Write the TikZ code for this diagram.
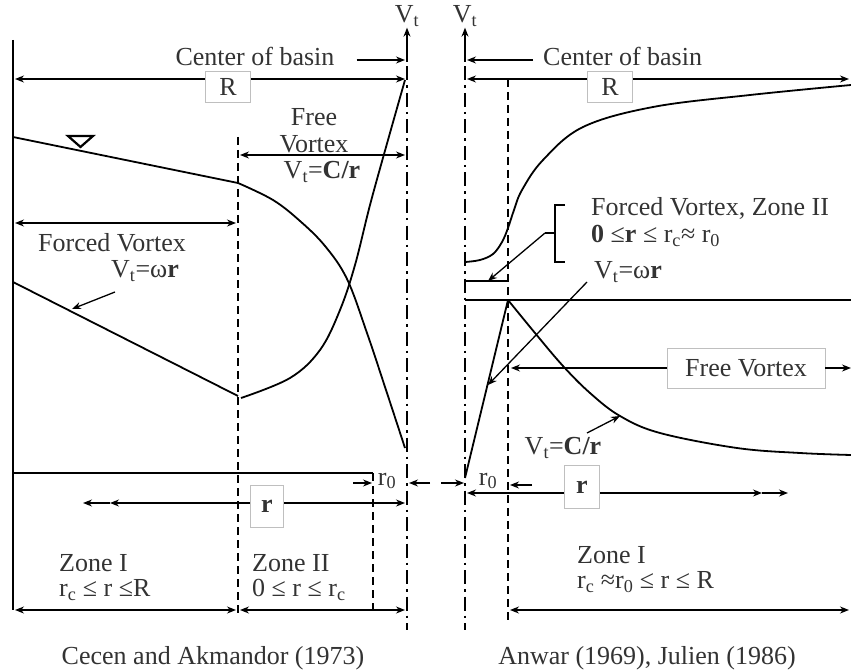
\documentclass[tikz,border=0pt]{standalone}
\usepackage{fontspec}
\setmainfont{Liberation Serif}
\usetikzlibrary{positioning, arrows.meta, calc}

\newcommand{\vt}{V\textsubscript{t}}

\begin{document}
\begin{tikzpicture}[
  x=1pt, y=-1pt,
  >={Stealth[length=9pt, width=7pt]},
  lbl/.style={font=\fontsize{26}{29}\selectfont, text=black!80, inner sep=1pt},
  boxlbl/.style={lbl, draw=black!25, line width=0.5pt, fill=white, inner sep=5pt},
  wall/.style={line width=2.2pt},
  curve/.style={line width=1.8pt},
  dimarr/.style={<->, line width=1.3pt},
  arr/.style={->, line width=1.3pt},
  zonedash/.style={line width=2pt, dash pattern=on 8pt off 5pt},
  axisline/.style={line width=1.8pt, dash pattern=on 14pt off 5pt on 2.5pt off 5pt},
]
\useasboundingbox (0,0) rectangle (851,671);

% === Left panel: Cecen and Akmandor ===
\coordinate (wallT) at (13,40);
\coordinate (wallB) at (13,610);
\coordinate (axLT) at (407,40);
\coordinate (axLB) at (407,630);
\coordinate (zoneLT) at (238,137);
\coordinate (zoneLB) at (238,615);
\coordinate (r0LT) at (373,473);
\coordinate (r0LB) at (373,610);

\draw[wall] (wallT) -- (wallB);
\draw[axisline] (axLT) -- (axLB);
\draw[zonedash] (zoneLT) -- (zoneLB);
\draw[zonedash] (r0LT) -- (r0LB);

% axis label
\node[lbl] (vtL) at (407,16) {\vt};
\coordinate (vtLbase) at (407,62);
\draw[arr] (vtLbase) -- (vtL.south);

% center of basin, R
\node[lbl, inner sep=0pt] (cobL) at (255,56) {Center of basin};
\coordinate (cobLend) at (405,60);
\draw[arr] ([shift={(22pt,-4pt)}]cobL.east) -- (cobLend);
\coordinate (RLa) at (15,79);
\coordinate (RLb) at (405,79);
\draw[dimarr] (RLa) -- (RLb);
\node[boxlbl, minimum width=45pt, minimum height=31pt] (RboxL) at (228,87) {R};

% water surface
\coordinate (wsA) at (13,137);
\coordinate (wsB) at (238,183);
\draw[curve] (wsA) -- (wsB);
\draw[curve] plot[smooth, tension=0.6] coordinates
  {(238,183) (273,200) (300,221) (325,246) (347,279) (367,333) (386,390) (405,448)};
\draw[line width=2.2pt, line join=miter] (68,136) -- (93,136) -- (80.5,147) -- cycle;

% free vortex
\node[lbl, align=center] (freeL) at (314,131) {Free\\[-2pt]Vortex};
\coordinate (fvLa) at (240,155);
\coordinate (fvLb) at (405,155);
\draw[dimarr] (fvLa) -- (fvLb);
\node[lbl] (ctL) at (322,172) {\vt=\textbf{C/r}};

% forced vortex
\coordinate (fcLa) at (15,223);
\coordinate (fcLb) at (236,223);
\draw[dimarr] (fcLa) -- (fcLb);
\node[lbl] (forcedL) at (112,243) {Forced Vortex};
\node[lbl] (wrL) at (145,271) {\vt=ω\textbf{r}};

% velocity profile
\coordinate (vpA) at (13,282);
\coordinate (vpB) at (238,396);
\draw[curve] (vpA) -- (vpB);
\draw[curve] plot[smooth, tension=0.6] coordinates
  {(241,398) (290,378) (320,350) (340,310) (355,265) (370,205) (388,140) (405,80)};
\coordinate (wrLa) at (115,292);
\coordinate (wrLtip) at (72,309);
\draw[arr] (wrLa) -- (wrLtip);

% r0 and r
\coordinate (baseLa) at (13,473);
\draw[line width=1.5pt] (baseLa) -- (r0LT);
\node[lbl] (r0L) at (387,481) {r\textsubscript{0}};
\coordinate (r0La) at (353,483);
\coordinate (r0Lb) at (372,483);
\draw[arr] (r0La) -- (r0Lb);
\coordinate (r0Lc) at (430,483);
\coordinate (r0Ld) at (409,483);
\draw[arr] (r0Lc) -- (r0Ld);
\coordinate (rLa) at (83,503);
\coordinate (rLb) at (110,503);
\coordinate (rLc) at (405,503);
\draw[dimarr] (rLb) -- (rLc);
\draw[arr] (rLb) -- (rLa);
\node[boxlbl, minimum width=33pt, minimum height=42pt] (rboxL) at (267,506) {\textbf{r}};

% zones
\node[lbl, anchor=west] (zIL) at (58,563) {Zone I};
\node[lbl, anchor=west] (zIrL) at (58,590) {r\textsubscript{c} ≤ r ≤R};
\node[lbl, anchor=west] (zIIL) at (251,563) {Zone II};
\node[lbl, anchor=west] (zIIrL) at (251,590) {0 ≤ r ≤ r\textsubscript{c}};
\coordinate (zbLa) at (15,610);
\coordinate (zbLb) at (236,610);
\coordinate (zbLc) at (240,610);
\coordinate (zbLd) at (405,610);
\draw[dimarr] (zbLa) -- (zbLb);
\draw[dimarr] (zbLc) -- (zbLd);

\node[lbl] (capL) at (213,658) {Cecen and Akmandor (1973)};

% === Right panel: Anwar, Julien ===
\coordinate (axRT) at (465,40);
\coordinate (axRB) at (465,630);
\coordinate (zoneRT) at (508,79);
\coordinate (zoneRB) at (508,620);
\draw[axisline] (axRT) -- (axRB);
\draw[zonedash] (zoneRT) -- (zoneRB);

\node[lbl] (vtR) at (465,16) {\vt};
\coordinate (vtRbase) at (465,62);
\draw[arr] (vtRbase) -- (vtR.south);

\node[lbl, anchor=west, inner sep=0pt] (cobR) at (543,56) {Center of basin};
\coordinate (cobRend) at (467,60);
\draw[arr] ([shift={(-10pt,-4pt)}]cobR.west) -- (cobRend);
\coordinate (RRa) at (467,79);
\coordinate (RRb) at (849,79);
\draw[dimarr] (RRa) -- (RRb);
\node[boxlbl, minimum width=45pt, minimum height=31pt] (RboxR) at (610,87) {R};

% upper profile
\draw[curve] plot[smooth, tension=0.6] coordinates
  {(465,262) (480,260) (493,254) (502,242) (508,228) (514,210) (522,190)
   (543,160) (583,127) (653,107) (750,95) (851,85)};

% forced vortex, zone II
\draw[line width=1.6pt] (565,205) -- (555,205) -- (555,262) -- (565,262);
\coordinate (brkTip) at (545,233);
\draw[line width=1.6pt] (555,233) -- (brkTip);
\node[lbl, anchor=west] (forcedR) at (590,208) {Forced Vortex, Zone II};
\node[lbl, anchor=west] (forcedRr) at (590,236) {\textbf{0} ≤\textbf{r} ≤ r\textsubscript{c}≈ r\textsubscript{0}};
\coordinate (shA) at (465,281);
\coordinate (shB) at (508,281);
\draw[line width=1.5pt] (shA) -- (shB);
\coordinate (brkEnd) at (488,281);
\draw[arr] (brkTip) -- (brkEnd);

% velocity profile
\coordinate (topA) at (465,300);
\coordinate (topB) at (851,300);
\draw[line width=1.5pt] (topA) -- (topB);
\coordinate (vpRa) at (465,478);
\coordinate (vpRb) at (508,300);
\draw[curve] (vpRa) -- (vpRb);
\draw[curve] plot[smooth, tension=0.6] coordinates
  {(508,300) (535,333) (563,366) (590,393) (620,416) (660,433) (737,448) (800,453) (851,455)};
\node[lbl] (wrR) at (628,272) {\vt=ω\textbf{r}};
\coordinate (wrRa) at (587,282);
\coordinate (wrRb) at (488,385);
\draw[arr] (wrRa) -- (wrRb);

\node[boxlbl, minimum width=158pt, minimum height=40pt] (fvR) at (746,368) {Free Vortex};
\coordinate (fvRa) at (511,368);
\coordinate (fvRb) at (851,368);
\draw[arr] (fvR.west) -- (fvRa);
\draw[arr] (fvR.east) -- (fvRb);

\node[lbl] (ctR) at (563,448) {\vt=\textbf{C/r}};
\coordinate (ctRa) at (587,433);
\coordinate (ctRb) at (620,416);
\draw[arr] (ctRa) -- (ctRb);

% r0 and r
\node[lbl] (r0R) at (488,481) {r\textsubscript{0}};
\coordinate (r0Ra) at (441,483);
\coordinate (r0Rb) at (464,483);
\draw[arr] (r0Ra) -- (r0Rb);
\coordinate (r0Rc) at (532,485);
\coordinate (r0Rd) at (510,485);
\draw[arr] (r0Rc) -- (r0Rd);
\coordinate (rRa) at (467,493);
\coordinate (rRb) at (762,493);
\coordinate (rRc) at (788,493);
\draw[dimarr] (rRa) -- (rRb);
\draw[arr] (rRb) -- (rRc);
\node[boxlbl, minimum width=35pt, minimum height=43pt] (rboxR) at (582,487) {\textbf{r}};

% zone
\node[lbl, anchor=west] (zIR) at (576,555) {Zone I};
\node[lbl, anchor=west] (zIrR) at (576,582) {r\textsubscript{c} ≈r\textsubscript{0} ≤ r ≤ R};
\coordinate (zbRa) at (510,610);
\coordinate (zbRb) at (849,610);
\draw[dimarr] (zbRa) -- (zbRb);

\node[lbl] (capR) at (647,658) {Anwar (1969), Julien (1986)};

\end{tikzpicture}
\end{document}
